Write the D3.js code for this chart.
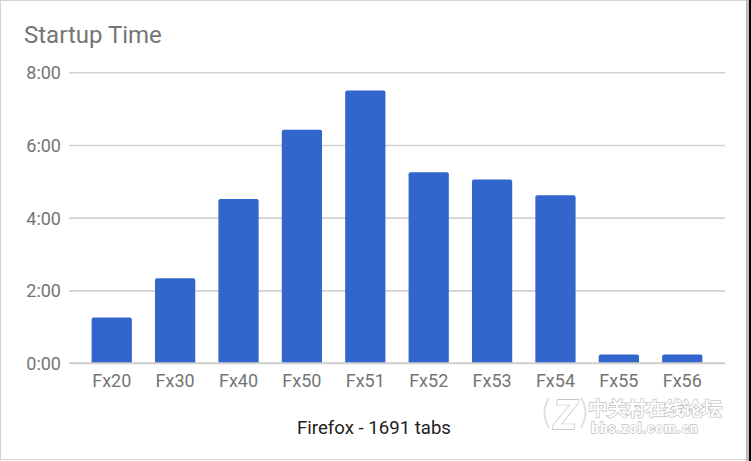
<!DOCTYPE html>
<html>
<head>
<meta charset="utf-8">
<script src="https://cdn.jsdelivr.net/npm/d3@7"></script>
<style>
  html, body { margin: 0; padding: 0; background: #fff; }
  svg { display: block; }
  text { font-family: Roboto, "Noto Sans", sans-serif; }
</style>
</head>
<body>
<svg id="chart" width="751" height="461"></svg>
<script>
// ---- data ----
const categories = ["Fx20", "Fx30", "Fx40", "Fx50", "Fx51", "Fx52", "Fx53", "Fx54", "Fx55", "Fx56"];
const startupSeconds = [75, 140, 271, 385, 450, 315, 303, 277, 14, 14];
const tickValues = [0, 120, 240, 360, 480];
const tickLabels = ["0:00", "2:00", "4:00", "6:00", "8:00"];
const chartTitle = "Startup Time";
const xAxisTitle = "Firefox - 1691 tabs";
const watermarkCN = "中关村在线论坛";
const watermarkURL = "bbs.zol.com.cn";

// ---- layout ----
const svg = d3.select("#chart");
const W = 751, H = 461;
const plot = { left: 69, right: 725, top: 72.3, bottom: 363 };

// frame
svg.append("rect").attr("x", 0.5).attr("y", 0.5).attr("width", 746).attr("height", 459)
  .attr("fill", "#fff").attr("stroke", "#d4d4d4").attr("stroke-width", 1);
svg.append("rect").attr("x", 746).attr("y", 0).attr("width", 3).attr("height", H).attr("fill", "#bdbdbd");
svg.append("rect").attr("x", 749).attr("y", 0).attr("width", 2).attr("height", H).attr("fill", "#000");

const x = d3.scaleBand().domain(categories).range([plot.left, plot.right])
  .paddingInner(0.365).paddingOuter(0.357);
const y = d3.scaleLinear().domain([0, 480]).range([plot.bottom, plot.top]);

// y axis with gridlines
const yAxis = d3.axisLeft(y)
  .tickValues(tickValues)
  .tickFormat((d, i) => tickLabels[i])
  .tickSizeInner(-(plot.right - plot.left))
  .tickSizeOuter(0)
  .tickPadding(8);
const gy = svg.append("g").attr("transform", `translate(${plot.left},0)`).call(yAxis);
gy.select(".domain").remove();
gy.selectAll(".tick line").attr("stroke", "#d2d2d2").attr("stroke-width", 1.6);
gy.selectAll(".tick text").attr("fill", "#757575").attr("font-size", 18)
  .attr("font-family", "Roboto, sans-serif").attr("x", -8).attr("dy", "0.36em");

// bars
const bars = categories.map((c, i) => ({ c, v: startupSeconds[i] }));
svg.append("g").selectAll("path").data(bars).join("path")
  .attr("fill", "#3366cc")
  .attr("d", d => {
    const x0 = x(d.c), w = x.bandwidth(), y0 = y(0), y1 = y(d.v), r = Math.min(2, (y0 - y1) / 2);
    return `M${x0},${y0} L${x0},${y1 + r} Q${x0},${y1} ${x0 + r},${y1} L${x0 + w - r},${y1} Q${x0 + w},${y1} ${x0 + w},${y1 + r} L${x0 + w},${y0} Z`;
  });

// redraw baseline on top
svg.append("line").attr("x1", plot.left).attr("x2", plot.right)
  .attr("y1", y(0)).attr("y2", y(0)).attr("stroke", "#cfcfcf").attr("stroke-width", 1.6);

// x axis labels
const xAxis = d3.axisBottom(x).tickSize(0).tickPadding(0);
const gx = svg.append("g").attr("transform", `translate(0,${plot.bottom})`).call(xAxis);
gx.select(".domain").remove();
gx.selectAll(".tick text").attr("fill", "#757575").attr("font-size", 18)
  .attr("font-family", "Roboto, sans-serif").attr("dy", null).attr("y", 24);

// title
svg.append("text").attr("x", 24).attr("y", 42.7).attr("fill", "#757575")
  .attr("font-size", 24).text(chartTitle);

// x axis title
svg.append("text").attr("x", 374).attr("y", 434.3).attr("text-anchor", "middle")
  .attr("fill", "#222").attr("font-size", 18.6).text(xAxisTitle);

// watermark
const wm = svg.append("g").attr("fill", "#fff").attr("stroke", "#bdbdbd")
  .attr("stroke-width", 1.3).attr("paint-order", "stroke");
wm.append("text").attr("x", 565).attr("y", 429).attr("text-anchor", "middle")
  .attr("font-size", 40).attr("font-weight", "bold").attr("font-style", "italic")
  .attr("font-family", "DejaVu Sans, sans-serif").text("Z");
wm.append("path").attr("fill", "none").attr("stroke", "#e0e0e0").attr("stroke-width", 2)
  .attr("d", "M549,398 Q540,412 549,428 M581,398 Q590,412 581,428");
wm.append("text").attr("x", 589).attr("y", 414.5).attr("font-size", 19).attr("font-weight", "bold")
  .attr("font-family", "Noto Sans CJK SC, sans-serif").text(watermarkCN);
wm.append("text").attr("x", 591).attr("y", 433).attr("font-size", 14).attr("font-weight", "bold")
  .attr("font-family", "Roboto, sans-serif").attr("letter-spacing", 0.8).text(watermarkURL);
</script>
</body>
</html>
